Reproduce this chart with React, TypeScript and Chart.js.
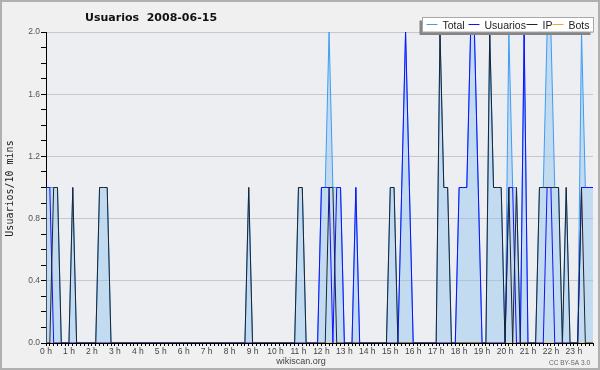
import React, { useEffect, useRef } from 'react';
import { Chart, registerables } from 'chart.js';

Chart.register(...registerables);

const TITLE = 'Usuarios  2008-06-15';
const Y_TITLE = 'Usuarios/10 mins';
const FOOTER = 'wikiscan.org';
const LICENSE = 'CC BY-SA 3.0';

const HOUR_LABELS = [
  '0 h', '1 h', '2 h', '3 h', '4 h', '5 h', '6 h', '7 h', '8 h', '9 h', '10 h', '11 h',
  '12 h', '13 h', '14 h', '15 h', '16 h', '17 h', '18 h', '19 h', '20 h', '21 h', '22 h', '23 h',
];
const Y_LABELS = ['0.0', '0.4', '0.8', '1.2', '1.6', '2.0'];

// one row per hour, six 10-minute slots per row
const TOTAL = [
  1, 1, 1, 1, 0, 0,
  0, 1, 0, 0, 0, 0,
  0, 0, 1, 1, 1, 0,
  0, 0, 0, 0, 0, 0,
  0, 0, 0, 0, 0, 0,
  0, 0, 0, 0, 0, 0,
  0, 0, 0, 0, 0, 0,
  0, 0, 0, 0, 0, 0,
  0, 0, 0, 0, 0, 1,
  0, 0, 0, 0, 0, 0,
  0, 0, 0, 0, 0, 0,
  1, 1, 0, 0, 0, 0,
  1, 1, 2, 1, 1, 1,
  0, 0, 0, 1, 0, 0,
  0, 0, 0, 0, 0, 0,
  1, 1, 0, 1, 2, 1,
  0, 0, 0, 0, 0, 0,
  0, 2, 1, 1, 0, 0,
  1, 1, 1, 2, 2, 1,
  0, 0, 2, 1, 1, 1,
  0, 2, 1, 1, 0, 2,
  0, 0, 0, 1, 1, 2,
  2, 1, 1, 0, 1, 0,
  0, 0, 2, 1, 1, 1,
];

const USUARIOS = [
  1, 1, 0, 0, 0, 0,
  0, 0, 0, 0, 0, 0,
  0, 0, 0, 0, 0, 0,
  0, 0, 0, 0, 0, 0,
  0, 0, 0, 0, 0, 0,
  0, 0, 0, 0, 0, 0,
  0, 0, 0, 0, 0, 0,
  0, 0, 0, 0, 0, 0,
  0, 0, 0, 0, 0, 0,
  0, 0, 0, 0, 0, 0,
  0, 0, 0, 0, 0, 0,
  0, 0, 0, 0, 0, 0,
  1, 1, 1, 0, 1, 1,
  0, 0, 0, 1, 0, 0,
  0, 0, 0, 0, 0, 0,
  0, 0, 0, 1, 2, 1,
  0, 0, 0, 0, 0, 0,
  0, 0, 0, 0, 0, 0,
  1, 1, 1, 2, 2, 1,
  0, 0, 0, 0, 0, 0,
  0, 1, 1, 0, 0, 2,
  0, 0, 0, 0, 0, 1,
  1, 0, 0, 0, 0, 0,
  0, 0, 1, 1, 1, 1,
];

const IP = [
  0, 0, 1, 1, 0, 0,
  0, 1, 0, 0, 0, 0,
  0, 0, 1, 1, 1, 0,
  0, 0, 0, 0, 0, 0,
  0, 0, 0, 0, 0, 0,
  0, 0, 0, 0, 0, 0,
  0, 0, 0, 0, 0, 0,
  0, 0, 0, 0, 0, 0,
  0, 0, 0, 0, 0, 1,
  0, 0, 0, 0, 0, 0,
  0, 0, 0, 0, 0, 0,
  1, 1, 0, 0, 0, 0,
  0, 0, 1, 1, 0, 0,
  0, 0, 0, 0, 0, 0,
  0, 0, 0, 0, 0, 0,
  1, 1, 0, 0, 0, 0,
  0, 0, 0, 0, 0, 0,
  0, 2, 1, 1, 0, 0,
  0, 0, 0, 0, 0, 0,
  0, 0, 2, 1, 1, 1,
  0, 1, 0, 1, 0, 0,
  0, 0, 0, 1, 1, 1,
  1, 1, 1, 0, 1, 0,
  0, 0, 1, 0, 0, 0,
];

const BOTS = [
  0, 0, 0, 0, 0, 0,
  0, 0, 0, 0, 0, 0,
  0, 0, 0, 0, 0, 0,
  0, 0, 0, 0, 0, 0,
  0, 0, 0, 0, 0, 0,
  0, 0, 0, 0, 0, 0,
  0, 0, 0, 0, 0, 0,
  0, 0, 0, 0, 0, 0,
  0, 0, 0, 0, 0, 0,
  0, 0, 0, 0, 0, 0,
  0, 0, 0, 0, 0, 0,
  0, 0, 0, 0, 0, 0,
  0, 0, 0, 0, 0, 0,
  0, 0, 0, 0, 0, 0,
  0, 0, 0, 0, 0, 0,
  0, 0, 0, 0, 0, 0,
  0, 0, 0, 0, 0, 0,
  0, 0, 0, 0, 0, 0,
  0, 0, 0, 0, 0, 0,
  0, 0, 0, 0, 0, 0,
  0, 0, 0, 0, 0, 0,
  0, 0, 0, 0, 0, 0,
  0, 0, 0, 0, 0, 0,
  0, 0, 0, 0, 0, 0,
];

const SERIES_NAMES = ['Total', 'Usuarios', 'IP', 'Bots'];
const COLORS = {
  Total: '#3d9cf5',
  Usuarios: '#1010ff',
  IP: '#1d2530',
  Bots: '#ffa31a',
};

const SLOTS_PER_HOUR = 6;
const toPoints = (arr: number[]) => arr.map((v, i) => ({ x: i, y: v }));

const isMajorY = (v: number) => Math.abs(v / 0.4 - Math.round(v / 0.4)) < 1e-6;

const decorPlugin = {
  id: 'decor',
  beforeDraw(chart: any) {
    const { ctx, chartArea } = chart;
    const { left, top, right, bottom } = chartArea;
    ctx.save();
    ctx.fillStyle = '#f0f0f0';
    ctx.fillRect(0, 0, chart.width, chart.height);
    ctx.fillStyle = '#eceef1';
    ctx.fillRect(left, top, right - left, bottom - top);
    ctx.restore();
  },
  afterDraw(chart: any) {
    const { ctx, chartArea } = chart;
    const W = chart.width;
    const H = chart.height;
    ctx.save();

    // title
    ctx.fillStyle = '#111';
    ctx.font = 'bold 11px "DejaVu Sans"';
    ctx.textAlign = 'left';
    ctx.textBaseline = 'alphabetic';
    ctx.fillText(TITLE, 85, 21);

    // y axis title
    ctx.save();
    ctx.translate(12.5, (chartArea.top + chartArea.bottom) / 2 + 1);
    ctx.rotate(-Math.PI / 2);
    ctx.font = '10px "DejaVu Sans Mono"';
    ctx.textAlign = 'center';
    ctx.fillStyle = '#222';
    ctx.fillText(Y_TITLE, 0, 0);
    ctx.restore();

    // legend
    const bx = 422.5, by = 17.5, bw = 171, bh = 14.5;
    ctx.fillStyle = '#858585';
    ctx.fillRect(bx - 3, by + 3, bw, bh);
    ctx.fillStyle = '#ffffff';
    ctx.fillRect(bx, by, bw, bh);
    ctx.strokeStyle = '#a8a8a8';
    ctx.lineWidth = 1;
    ctx.strokeRect(bx, by, bw, bh);
    const starts = [426.5, 468.5, 526.5, 552.5];
    ctx.font = '10.5px "Liberation Sans"';
    ctx.textBaseline = 'alphabetic';
    SERIES_NAMES.forEach((name, i) => {
      const x = starts[i];
      ctx.strokeStyle = (COLORS as any)[name];
      ctx.beginPath();
      ctx.moveTo(x, 24.5);
      ctx.lineTo(x + 11, 24.5);
      ctx.stroke();
      ctx.fillStyle = '#222';
      ctx.fillText(name, x + 16, 28.5);
    });

    // footer
    ctx.fillStyle = '#444';
    ctx.font = '9px "Liberation Sans"';
    ctx.textAlign = 'center';
    ctx.fillText(FOOTER, 301, 363.5);
    ctx.fillStyle = '#666';
    ctx.font = '6.5px "Liberation Sans"';
    ctx.textAlign = 'right';
    ctx.fillText(LICENSE, 590, 364.5);

    // frame
    ctx.strokeStyle = '#b0b0b0';
    ctx.lineWidth = 2;
    ctx.strokeRect(1, 1, W - 2, H - 2);
    ctx.restore();
  },
};

export default function App() {
  const canvasRef = useRef<HTMLCanvasElement | null>(null);

  useEffect(() => {
    const canvas = canvasRef.current;
    if (!canvas) return;
    const nSlots = TOTAL.length;
    const xTicks = Array.from({ length: nSlots }, (_, i) => ({ value: i }));
    const yTicks = Array.from({ length: 21 }, (_, i) => ({ value: i / 10 }));

    const chart = new Chart(canvas, {
      type: 'line',
      data: {
        datasets: [
          {
            label: 'IP',
            data: toPoints(IP),
            borderColor: COLORS.IP,
            borderWidth: 1,
            pointRadius: 0,
            fill: false,
            order: 1,
          },
          {
            label: 'Usuarios',
            data: toPoints(USUARIOS),
            borderColor: COLORS.Usuarios,
            borderWidth: 1,
            pointRadius: 0,
            fill: false,
            order: 2,
          },
          {
            label: 'Bots',
            data: toPoints(BOTS),
            borderColor: COLORS.Bots,
            borderWidth: 1,
            pointRadius: 0,
            fill: false,
            order: 3,
          },
          {
            label: 'Total',
            data: toPoints(TOTAL),
            borderColor: COLORS.Total,
            backgroundColor: 'rgba(138,193,238,0.42)',
            borderWidth: 1,
            pointRadius: 0,
            fill: 'origin',
            order: 4,
          },
        ],
      },
      options: {
        animation: false,
        responsive: false,
        devicePixelRatio: 1,
        parsing: false as any,
        normalized: true,
        events: [],
        layout: { padding: { left: 0, right: 7, top: 32, bottom: 12 } },
        plugins: {
          legend: { display: false },
          title: { display: false },
          tooltip: { enabled: false },
        },
        elements: { line: { tension: 0 } },
        scales: {
          x: {
            type: 'linear',
            position: 'bottom',
            min: 0,
            max: nSlots - 1,
            afterBuildTicks: (s: any) => {
              s.ticks = xTicks.map((t) => ({ ...t }));
            },
            afterFit: (s: any) => {
              s.height = 15;
            },
            ticks: {
              autoSkip: false,
              maxRotation: 0,
              minRotation: 0,
              padding: 1,
              color: '#444',
              font: { family: 'Liberation Sans', size: 8.5 },
              callback: (v: any) =>
                Number(v) % SLOTS_PER_HOUR === 0 ? HOUR_LABELS[Number(v) / SLOTS_PER_HOUR] : '',
            },
            grid: {
              drawOnChartArea: false,
              drawTicks: true,
              tickLength: 3,
              tickColor: '#000',
              color: '#000',
            },
            border: { display: true, color: '#000', width: 1, z: 2 } as any,
          },
          y: {
            type: 'linear',
            min: 0,
            max: 2,
            afterBuildTicks: (s: any) => {
              s.ticks = yTicks.map((t) => ({ ...t }));
            },
            afterFit: (s: any) => {
              s.width = 46;
            },
            ticks: {
              autoSkip: false,
              padding: 1,
              color: '#555',
              font: { family: 'Liberation Sans', size: 8.5 },
              callback: (v: any) => {
                const n = Number(v);
                if (!isMajorY(n)) return '';
                return Y_LABELS[Math.round(n / 0.4)];
              },
            },
            grid: {
              drawTicks: true,
              tickLength: 5,
              tickColor: '#000',
              color: (ctx: any) =>
                ctx.tick && isMajorY(ctx.tick.value) ? '#c8c8c8' : 'rgba(0,0,0,0)',
            },
            border: { display: true, color: '#000', width: 1 },
          },
        },
      },
      plugins: [decorPlugin],
    });

    return () => {
      chart.destroy();
    };
  }, []);

  return (
    <div style={{ position: 'absolute', left: 0, top: 0, width: 600, height: 370 }}>
      <canvas ref={canvasRef} width={600} height={370} style={{ width: 600, height: 370, display: 'block' }} />
    </div>
  );
}
